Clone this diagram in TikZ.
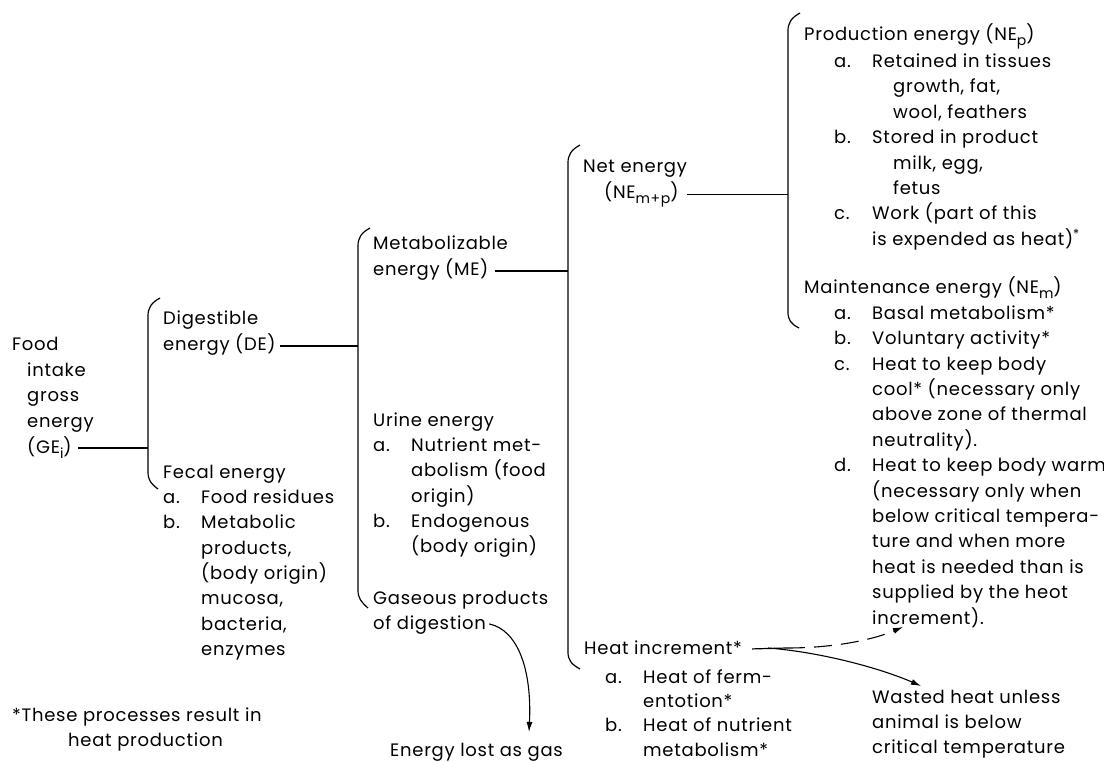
\documentclass[tikz,border=0pt]{standalone}
\usepackage{fontspec}
\setmainfont{Poppins}[LetterSpace=4]
\usetikzlibrary{arrows.meta}
\newcommand{\sub}[1]{\raisebox{-5pt}{\fontsize{14}{14}\selectfont #1}}
\newcommand{\itm}[1]{\makebox[38pt][l]{#1}}
\newcommand{\ind}[1]{\hspace*{#1pt}}
\newcommand{\lines}[1]{\begin{tabular}[t]{@{}l@{}}#1\end{tabular}}

\begin{document}
\begin{tikzpicture}[
  x=1pt,y=-1pt,
  txt/.style={
    anchor=base west,
    inner sep=0pt,
    font=\fontsize{18}{25.4}\selectfont
  },
  link/.style={line width=1.2pt},
  brace/.style={line width=1.2pt},
  arrow/.style={-{Latex[length=10pt,width=6pt]},line width=1.1pt}
]
  \useasboundingbox (0,0) rectangle (1104,762);
  % first split: gross energy
  \node[txt] (food) at (12,351) {\lines{Food\\\ind{15}intake\\\ind{15}gross\\\ind{15}energy}};
  \node[txt] (gei) at (27,453) {\lines{(GE\sub{i})}};
  \node[txt] (dig) at (163,324) {\lines{Digestible}};
  \node[txt] (de) at (163,351) {\lines{energy (DE)}};
  \node[txt] (fecal) at (163,478) {\lines{Fecal energy\\\itm{a.}Food residues\\\itm{b.}Metabolic\\\ind{38}products,\\\ind{38}(body origin)\\\ind{38}mucosa,\\\ind{38}bacteria,\\\ind{38}enzymes}};
  \node[txt] (note) at (12,721) {\lines{*These processes result in\\\ind{56}heat production}};
  % second split: digestible energy
  \node[txt] (metab) at (373,250) {\lines{Metabolizable}};
  \node[txt] (me) at (373,276) {\lines{energy (ME)}};
  \node[txt] (urine) at (373,426) {\lines{Urine energy\\\itm{a.}Nutrient met-\\\ind{38}abolism (food\\\ind{38}origin)\\\itm{b.}Endogenous\\\ind{38}(body origin)}};
  \node[txt] (gas) at (373,604) {\lines{Gaseous products}};
  \node[txt] (digest) at (373,629) {\lines{of digestion}};
  \node[txt] (lost) at (390,756) {\lines{Energy lost as gas}};
  % third split: metabolizable energy
  \node[txt] (net) at (583,173) {\lines{Net energy}};
  \node[txt] (nemp) at (604,199) {\lines{(NE\sub{m+p})}};
  \node[txt] (heat) at (584,654) {\lines{Heat increment*}};
  \node[txt,font=\fontsize{18}{24.4}\selectfont] (heatlist) at (605,683) {\lines{\itm{a.}Heat of ferm-\\\ind{38}entotion*\\\itm{b.}Heat of nutrient\\\ind{38}metabolism*}};
  \node[txt] (wasted) at (872,703) {\lines{Wasted heat unless\\animal is below\\critical temperature}};
  % fourth split: net energy
  \node[txt] (prod) at (804,41) {\lines{Production energy (NE\sub{p})\\\ind{30}\itm{a.}Retained in tissues\\\ind{89}growth, fat,\\\ind{89}wool, feathers\\\ind{30}\itm{b.}Stored in product\\\ind{89}milk, egg,\\\ind{89}fetus\\\ind{30}\itm{c.}Work (part of this\\\ind{68}is expended as heat)\textsuperscript{*}}};
  \node[txt] (maint) at (804,294) {\lines{Maintenance energy (NE\sub{m})\\\ind{30}\itm{a.}Basal metabolism*\\\ind{30}\itm{b.}Voluntary activity*\\\ind{30}\itm{c.}Heat to keep body\\\ind{68}cool* (necessary only\\\ind{68}above zone of thermal\\\ind{68}neutrality).\\\ind{30}\itm{d.}Heat to keep body warm\\\ind{68}(necessary only when\\\ind{68}below critical tempera-\\\ind{68}ture and when more\\\ind{68}heat is needed than is\\\ind{68}supplied by the heot\\\ind{68}increment).}};
  % brackets
  \draw[brace] (160,298) .. controls (151,303) and (148,308) .. (148,316) -- (148,472) .. controls (148,480) and (151,484) .. (158,489);
  \draw[brace] (370,228) .. controls (361,233) and (358,238) .. (358,246) -- (358,590) .. controls (358,598) and (361,602) .. (368,608);
  \draw[brace] (580,145) .. controls (571,150) and (568,155) .. (568,163) -- (568,652) .. controls (568,660) and (571,664) .. (580,669);
  \draw[brace] (800,13) .. controls (791,18) and (788,23) .. (788,31) -- (788,312) .. controls (788,320) and (791,324) .. (799,328);
  \coordinate (b1) at (148,447);
  \coordinate (b2) at (358,345);
  \coordinate (b3) at (568,270);
  \coordinate (b4) at (788,193);
  \coordinate (fork) at (768,648);
  \coordinate (split) at (787,648);
  \coordinate (warmtip) at (903,627);
  \coordinate (wastetip) at (921,686);
  \coordinate (gastip) at (529,732);
  % connectors
  \draw[link] ([xshift=6pt]gei.east) -- (gei.east -| b1);
  \draw[link] ([xshift=4pt]de.east) -- (de.east -| b2);
  \draw[link] ([xshift=6pt]me.east) -- (me.east -| b3);
  \draw[link] ([xshift=8pt]nemp.east) -- (nemp.east -| b4);
  \draw[link] ([xshift=10pt]heat.east) -- (split);
  \draw[arrow,dash pattern=on 18pt off 9pt] (split) .. controls (830,648) and (870,641) .. (warmtip);
  \draw[arrow] (fork) .. controls (820,652) and (880,668) .. (wastetip);
  \draw[arrow] ([xshift=3pt]digest.east) .. controls (518,630) and (532,670) .. (gastip);
\end{tikzpicture}
\end{document}
